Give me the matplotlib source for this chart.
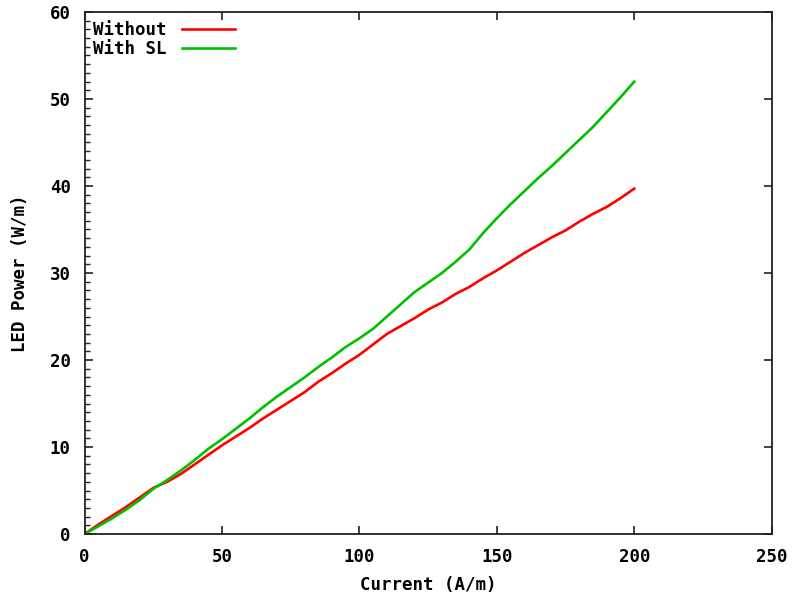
import numpy as np
import matplotlib
matplotlib.use("Agg")
import matplotlib.pyplot as plt
from matplotlib.ticker import MultipleLocator

# current sweep (A/m) and LED output power (W/m)
current = [0, 5, 10, 15, 20, 25, 30, 35, 40, 45, 50, 55, 60, 65, 70, 75, 80, 85, 90, 95,
           100, 105, 110, 115, 120, 125, 130, 135, 140, 145, 150, 155, 160, 165, 170,
           175, 180, 185, 190, 195, 200]
power_without = [0.0, 1.1, 2.1, 3.1, 4.2, 5.3, 6.0, 6.9, 8.0, 9.1, 10.2, 11.2, 12.2, 13.3,
                 14.3, 15.3, 16.3, 17.5, 18.5, 19.6, 20.6, 21.8, 23.0, 23.9, 24.8, 25.8,
                 26.6, 27.6, 28.4, 29.4, 30.3, 31.3, 32.3, 33.2, 34.1, 34.9, 35.9, 36.8,
                 37.6, 38.6, 39.7]
power_with_sl = [0.0, 0.9, 1.8, 2.8, 3.9, 5.2, 6.2, 7.3, 8.5, 9.8, 10.9, 12.1, 13.3, 14.6,
                 15.8, 16.9, 18.0, 19.2, 20.3, 21.5, 22.5, 23.6, 25.0, 26.4, 27.8, 28.9,
                 30.0, 31.3, 32.7, 34.6, 36.3, 37.9, 39.4, 40.9, 42.3, 43.8, 45.3, 46.8,
                 48.5, 50.2, 52.0]

font = {"family": "DejaVu Sans Mono", "weight": "bold", "size": 12.5}

fig = plt.figure(figsize=(7.93, 5.96), dpi=100)
ax = fig.add_axes([0.1068, 0.104, 0.8663, 0.8759])

ax.plot(current, power_without, color="#ff0000", lw=1.9, label="Without")
ax.plot(current, power_with_sl, color="#00c000", lw=1.9, label="With SL")

ax.set_xlim(0, 250)
ax.set_ylim(0, 60)
ax.xaxis.set_major_locator(MultipleLocator(50))
ax.yaxis.set_major_locator(MultipleLocator(10))
ax.yaxis.set_minor_locator(MultipleLocator(1))

ax.tick_params(axis="both", which="major", direction="in", length=6, width=1.2,
               top=True, right=True, color="#222222")
ax.tick_params(axis="y", which="minor", direction="in", length=3.5, width=1.0,
               left=True, right=False, color="#222222")
ax.tick_params(axis="x", pad=10)
ax.tick_params(axis="y", pad=10)
for lab in ax.get_xticklabels() + ax.get_yticklabels():
    lab.set_fontfamily(font["family"])
    lab.set_fontweight("bold")
    lab.set_fontsize(font["size"])

for sp in ax.spines.values():
    sp.set_linewidth(1.3)
    sp.set_color("#222222")

ax.set_xlabel("Current (A/m)", fontdict=font, labelpad=7)
ax.set_ylabel("LED Power (W/m)", fontdict=font, labelpad=15)

leg = ax.legend(loc="upper left", frameon=False, markerfirst=False,
                prop={"family": "DejaVu Sans Mono", "weight": "bold", "size": 12.5},
                handlelength=3.0, handletextpad=0.9, labelspacing=0.1,
                borderaxespad=0.1, bbox_to_anchor=(0.0, 1.0))
for t in leg.get_texts():
    t.set_ha("left")

fig.savefig("out.png", dpi=100, facecolor="white")
